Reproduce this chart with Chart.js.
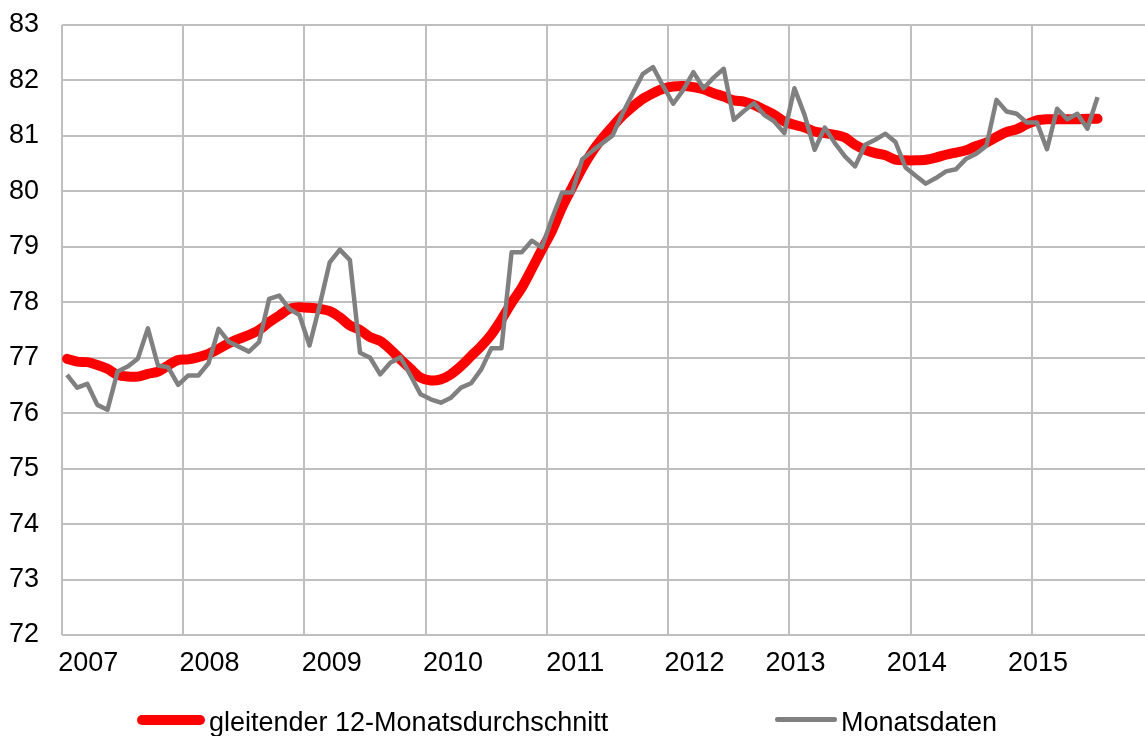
<!DOCTYPE html>
<html>
<head>
<meta charset="utf-8">
<script src="https://cdn.jsdelivr.net/npm/chart.js@4.4.1/dist/chart.umd.min.js"></script>
<style>
  html, body { margin: 0; padding: 0; background: #fff; }
  #wrap { position: relative; width: 1145px; height: 736px; overflow: hidden; }
  #legend .item {
    position: absolute; top: 709px; height: 27px;
    display: flex; align-items: center;
    font: 27px 'Liberation Sans', Arial, sans-serif; line-height: 27px;
    color: #000; white-space: nowrap;
  }
  #legend .swatch { position: relative; top: -3px; margin-right: 4px; }
</style>
</head>
<body>
<div id="wrap">
  <canvas id="chart"></canvas>
  <div id="legend"></div>
</div>
<script>
// Jahresbeschriftung der x-Achse
const years = ['2007', '2008', '2009', '2010', '2011', '2012', '2013', '2014', '2015'];

// gleitender 12-Monatsdurchschnitt, Jan 2007 - Jul 2015
const avg12 = [
  76.98, 76.93, 76.92, 76.87, 76.80, 76.69, 76.66, 76.66, 76.71, 76.75, 76.86, 76.96,
  76.97, 77.01, 77.07, 77.16, 77.26, 77.34, 77.41, 77.50, 77.64, 77.76, 77.88, 77.91,
  77.90, 77.88, 77.84, 77.73, 77.58, 77.50, 77.37, 77.30, 77.15, 76.97, 76.80, 76.64,
  76.59, 76.61, 76.70, 76.85, 77.03, 77.21, 77.42, 77.69, 77.99, 78.26, 78.60, 78.95,
  79.29, 79.71, 80.07, 80.42, 80.72, 80.96, 81.17, 81.37, 81.53, 81.67, 81.77, 81.85,
  81.89, 81.90, 81.88, 81.84, 81.77, 81.71, 81.64, 81.62, 81.56, 81.47, 81.38, 81.26,
  81.20, 81.15, 81.08, 81.05, 81.02, 80.97, 80.84, 80.75, 80.69, 80.65, 80.57, 80.56,
  80.56, 80.57, 80.61, 80.66, 80.70, 80.74, 80.82, 80.88, 80.98, 81.07, 81.12, 81.21,
  81.28, 81.30, 81.30, 81.30, 81.30, 81.31, 81.31
];

// Monatsdaten, Jan 2007 - Jul 2015
const monthly = [
  76.69, 76.46, 76.53, 76.15, 76.06, 76.75, 76.84, 76.98, 77.53, 76.86, 76.83, 76.51,
  76.68, 76.68, 76.90, 77.52, 77.29, 77.20, 77.11, 77.28, 78.06, 78.12, 77.88, 77.77,
  77.22, 77.94, 78.72, 78.95, 78.76, 77.09, 77.00, 76.70, 76.91, 77.01, 76.68, 76.34,
  76.25, 76.19, 76.28, 76.46, 76.54, 76.79, 77.17, 77.17, 78.90, 78.90, 79.11, 78.99,
  79.51, 79.98, 79.98, 80.58, 80.73, 80.87, 81.01, 81.41, 81.77, 82.12, 82.24, 81.90,
  81.58, 81.83, 82.15, 81.86, 82.05, 82.21, 81.29, 81.45, 81.59, 81.38, 81.26, 81.05,
  81.86, 81.38, 80.75, 81.15, 80.87, 80.63, 80.45, 80.84, 80.93, 81.04, 80.89, 80.43,
  80.28, 80.14, 80.24, 80.36, 80.40, 80.59, 80.68, 80.82, 81.65, 81.44, 81.40, 81.24,
  81.24, 80.76, 81.49, 81.30, 81.40, 81.13, 81.70
];

// Lage der Jahreszahlen (in Monaten ab Jan 2007), wie im Original leicht versetzt
const yearLabelAt = [2.6, 14.6, 26.7, 38.7, 50.8, 62.6, 72.6, 84.6, 96.6];

const FONT = "'Liberation Sans', Arial, sans-serif";
const GRID = '#bfbfbf';

// Punkte in der Monatsmitte
const toPoints = arr => arr.map((v, i) => ({ x: i + 0.5, y: v }));

const ctx = document.getElementById('chart');
const chart = new Chart(ctx, {
  type: 'line',
  data: {
    datasets: [
      {
        label: 'gleitender 12-Monatsdurchschnitt',
        data: toPoints(avg12),
        borderColor: '#ff0000',
        backgroundColor: '#ff0000',
        borderWidth: 10,
        borderCapStyle: 'round',
        borderJoinStyle: 'round',
        tension: 0.3,
        pointRadius: 0,
        order: 2,
      },
      {
        label: 'Monatsdaten',
        data: toPoints(monthly),
        borderColor: '#808080',
        backgroundColor: '#808080',
        borderWidth: 4.5,
        borderJoinStyle: 'round',
        tension: 0,
        pointRadius: 0,
        order: 1,
      },
    ],
  },
  options: {
    responsive: true,
    maintainAspectRatio: false,
    animation: false,
    layout: { padding: { top: 25, left: 9, right: 0, bottom: 56 } },
    scales: {
      x: {
        type: 'linear',
        min: 0,
        max: 107.2,
        afterBuildTicks: axis => { axis.ticks = years.map((y, i) => ({ value: i * 12 })); },
        grid: { color: GRID, lineWidth: 2, drawTicks: false },
        border: { display: false },
        ticks: { display: false },
      },
      xLabels: {
        type: 'linear',
        position: 'bottom',
        min: 0,
        max: 107.2,
        afterBuildTicks: axis => { axis.ticks = yearLabelAt.map(v => ({ value: v })); },
        afterFit: axis => { axis.height = 45; },
        grid: { display: false, drawTicks: false },
        border: { display: false },
        ticks: {
          autoSkip: false,
          maxRotation: 0,
          padding: 12,
          color: '#000',
          font: { family: FONT, size: 27 },
          callback: (value, index) => years[index],
        },
      },
      y: {
        min: 72,
        max: 83,
        afterFit: axis => { axis.width = 53; },
        grid: { color: GRID, lineWidth: 2, drawTicks: false },
        border: { display: false },
        ticks: {
          stepSize: 1,
          padding: 0,
          crossAlign: 'far',
          color: '#000',
          font: { family: FONT, size: 27 },
        },
      },
    },
    plugins: {
      legend: { display: false },
      tooltip: { enabled: false },
    },
  },
});

// Legende unter dem Diagramm, aus den Datensätzen erzeugt
const legendLeft = [137, 775];
const swatchWidth = [68, 62];
const legendEl = document.getElementById('legend');
chart.data.datasets.forEach((ds, i) => {
  const item = document.createElement('div');
  item.className = 'item';
  item.style.left = legendLeft[i] + 'px';
  const sw = document.createElement('span');
  sw.className = 'swatch';
  sw.style.width = swatchWidth[i] + 'px';
  sw.style.height = ds.borderWidth + 'px';
  sw.style.background = ds.borderColor;
  sw.style.borderRadius = (ds.borderWidth / 2) + 'px';
  const txt = document.createElement('span');
  txt.textContent = ds.label;
  item.appendChild(sw);
  item.appendChild(txt);
  legendEl.appendChild(item);
});
</script>
</body>
</html>
